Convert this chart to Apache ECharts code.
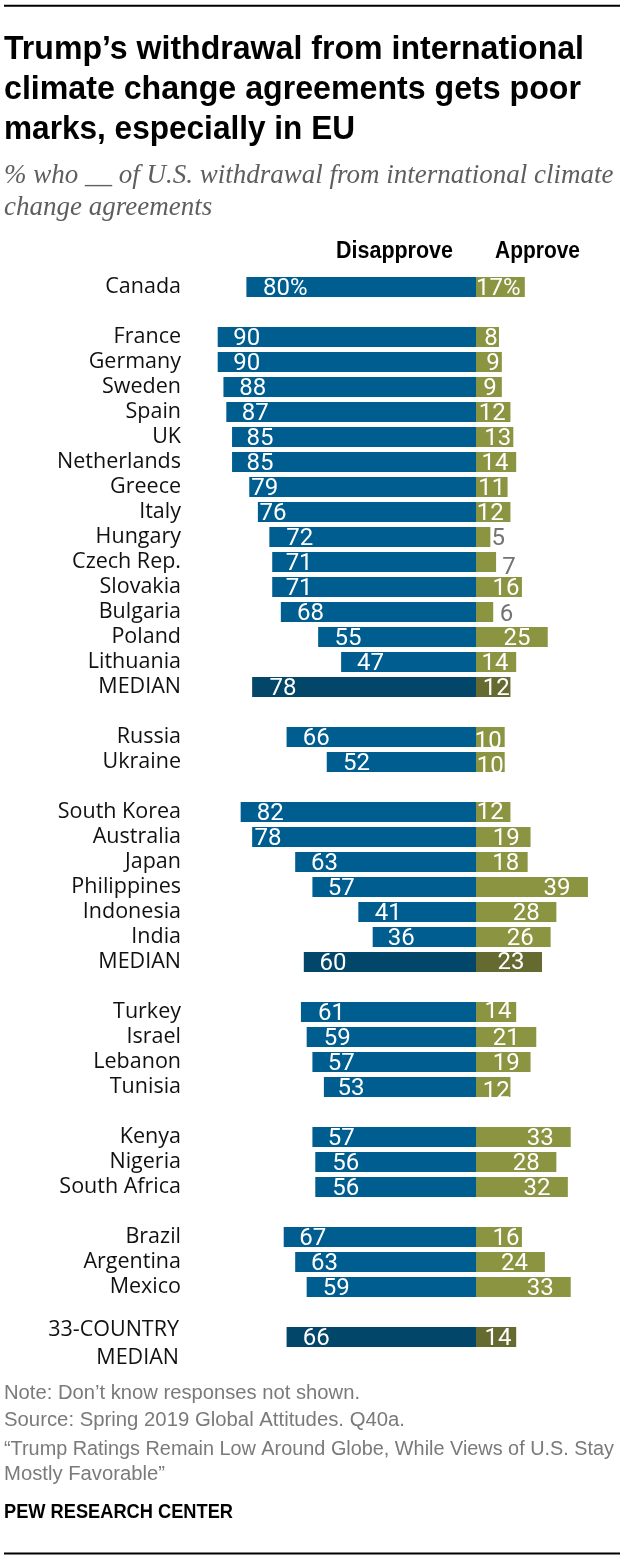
<!DOCTYPE html>
<html>
<head>
<meta charset="utf-8">
<style>
  html, body { margin: 0; padding: 0; background: #fff; }
  #chart { width: 620px; height: 1560px; }
</style>
<script src="https://cdn.jsdelivr.net/npm/echarts@6/dist/echarts.min.js"></script>
</head>
<body>
<div id="chart"></div>
<script>
// '' / null rows are the gaps between country groups
const countries = ['Canada', '', 'France', 'Germany', 'Sweden', 'Spain', 'UK', 'Netherlands', 'Greece', 'Italy', 'Hungary', 'Czech Rep.', 'Slovakia', 'Bulgaria', 'Poland', 'Lithuania', 'MEDIAN', '', 'Russia', 'Ukraine', '', 'South Korea', 'Australia', 'Japan', 'Philippines', 'Indonesia', 'India', 'MEDIAN', '', 'Turkey', 'Israel', 'Lebanon', 'Tunisia', '', 'Kenya', 'Nigeria', 'South Africa', '', 'Brazil', 'Argentina', 'Mexico', '', '33-COUNTRY\nMEDIAN'];
const disapprove = [80, null, 90, 90, 88, 87, 85, 85, 79, 76, 72, 71, 71, 68, 55, 47, 78, null, 66, 52, null, 82, 78, 63, 57, 41, 36, 60, null, 61, 59, 57, 53, null, 57, 56, 56, null, 67, 63, 59, null, 66];
const approve = [17, null, 8, 9, 9, 12, 13, 14, 11, 12, 5, 7, 16, 6, 25, 14, 12, null, 10, 10, null, 12, 19, 18, 39, 28, 26, 23, null, 14, 21, 19, 12, null, 33, 28, 32, null, 16, 24, 33, null, 14];

// label nudges in px from the bar centre, the source places these by hand
const disapproveDx = [-76, 0, -100, -100, -97, -96, -94, -94, -98, -94, -73, -75, -75, -68, -49, -38, -81, 0, -65, -45, 0, -88, -96, -61, -53, -29, -23, -57, 0, -57, -54, -53, -49, 0, -53, -50, -50, 0, -67, -61, -55, 0, -65];
const approveDx = [-2, 0, 3.5, 4, 1, -1, 3, -1, 0, -3, 15, 23, 7, 22, 5, -1, 3, 0, -2, 0, 0, -3, 3, 4, 25, 10, 7, 2, 0, 2, 0, 3, 3, 0, 17, 10, 15, 0, 7, 4, 17, 0, 2];
const approveDy = [0, 0, 0, 0, 0, 0, 0, 0, 0, 0, 0, 4, 0, 1, 0, 0, 0, 0, 3, 3, 0, -1, 0, 0, 0, 0, 0, -1, 0, -2, 0, 0, 3, 0, 0, 0, 0, 0, 0, 0, 0, 0, 0];
const LABEL_DROP = 1.5;

const BLUE = '#005d8f', BLUE_DARK = '#02466a';
const OLIVE = '#8b9441', OLIVE_DARK = '#656a30';
const NOTE_GREY = '#7a7a7a', SUB_GREY = '#5e5e5e';
const VALUE_FONT = 'Roboto';
const CAT_FONT = '"Open Sans"';
const HEAD_FONT = '"Liberation Sans"';

const measureCtx = document.createElement('canvas').getContext('2d');

// no condensed face is installed, so squeeze the text to the width it has in the source
function text(x, y, str, size, color, width, weight) {
  const w = weight || 'normal';
  measureCtx.font = w + ' ' + size + 'px ' + HEAD_FONT;
  return {
    type: 'text', x: x, y: y, silent: true,
    scaleX: width / measureCtx.measureText(str).width,
    style: { text: str, fontSize: size, fontWeight: w, fill: color, fontFamily: HEAD_FONT, textVerticalAlign: 'middle' }
  };
}

function subtitle(y, str) {
  return {
    type: 'text', x: 4, y: y, silent: true,
    style: { text: str, fontSize: 27, fontStyle: 'italic', fill: SUB_GREY, fontFamily: '"Liberation Serif"', textVerticalAlign: 'middle' }
  };
}

const chart = echarts.init(document.getElementById('chart'), null, { renderer: 'canvas' });
chart.setOption({
  animation: false,
  backgroundColor: '#fff',
  grid: { left: 189, top: 274.5, width: 430.5, height: 1075 },
  xAxis: { type: 'value', min: -100, max: 50, show: false },
  yAxis: {
    type: 'category',
    inverse: true,
    data: countries,
    axisLine: { show: false },
    axisTick: { show: false },
    axisLabel: {
      interval: 0, margin: 8, fontFamily: CAT_FONT, fontSize: 21.5, color: '#111',
      // the two line label hangs below its bar: the small first line pushes it down
      formatter: c => c.includes('\n') ? '{gap| }\n' + c.split('\n').map(s => '{two|' + s + '}').join('\n') : c,
      rich: {
        gap: { fontSize: 10, lineHeight: 14 },
        two: { fontFamily: CAT_FONT, fontSize: 21.5, color: '#111', lineHeight: 28, padding: [0, 2, 0, 0] }
      }
    }
  },
  series: [
    {
      type: 'bar', stack: 'rows', barWidth: 20,
      data: disapprove.map((v, i) => ({
        value: v === null ? null : -v,
        itemStyle: { color: countries[i].includes('MEDIAN') ? BLUE_DARK : BLUE },
        label: { offset: [disapproveDx[i], LABEL_DROP] }
      })),
      label: {
        show: true, position: 'inside', color: '#fff', fontFamily: VALUE_FONT, fontSize: 24,
        formatter: p => Math.abs(p.value) + (p.dataIndex === 0 ? '%' : '')
      }
    },
    {
      type: 'bar', stack: 'rows', barWidth: 20,
      data: approve.map((v, i) => ({
        value: v,
        itemStyle: { color: countries[i].includes('MEDIAN') ? OLIVE_DARK : OLIVE },
        label: { offset: [approveDx[i], approveDy[i] + LABEL_DROP], color: v < 8 ? '#737373' : '#fff' }
      })),
      label: {
        show: true, position: 'inside', fontFamily: VALUE_FONT, fontSize: 24,
        formatter: p => p.value + (p.dataIndex === 0 ? '%' : '')
      }
    }
  ],
  graphic: [
    { type: 'rect', silent: true, shape: { x: 4, y: 4.7, width: 616, height: 2 }, style: { fill: '#000' } },
    text(4, 49.5, 'Trump\u2019s withdrawal from international', 34, '#000', 580, 'bold'),
    text(4, 89.5, 'climate change agreements gets poor', 34, '#000', 577, 'bold'),
    text(4, 129.5, 'marks, especially in EU', 34, '#000', 351, 'bold'),
    subtitle(176, '% who __ of U.S. withdrawal from international climate'),
    subtitle(208, 'change agreements'),
    text(336, 252, 'Disapprove', 23, '#000', 117, 'bold'),
    text(495, 252, 'Approve', 23, '#000', 85, 'bold'),
    text(4, 1393.5, 'Note: Don\u2019t know responses not shown.', 20, NOTE_GREY, 356),
    text(4, 1420, 'Source: Spring 2019 Global Attitudes. Q40a.', 20, NOTE_GREY, 401),
    text(4, 1449, '\u201CTrump Ratings Remain Low Around Globe, While Views of U.S. Stay', 20, NOTE_GREY, 610),
    text(4, 1474, 'Mostly Favorable\u201D', 20, NOTE_GREY, 161),
    text(4, 1512, 'PEW RESEARCH CENTER', 20, '#000', 229, 'bold'),
    { type: 'rect', silent: true, shape: { x: 4, y: 1552.5, width: 616, height: 2 }, style: { fill: '#000' } }
  ]
});
</script>
</body>
</html>
